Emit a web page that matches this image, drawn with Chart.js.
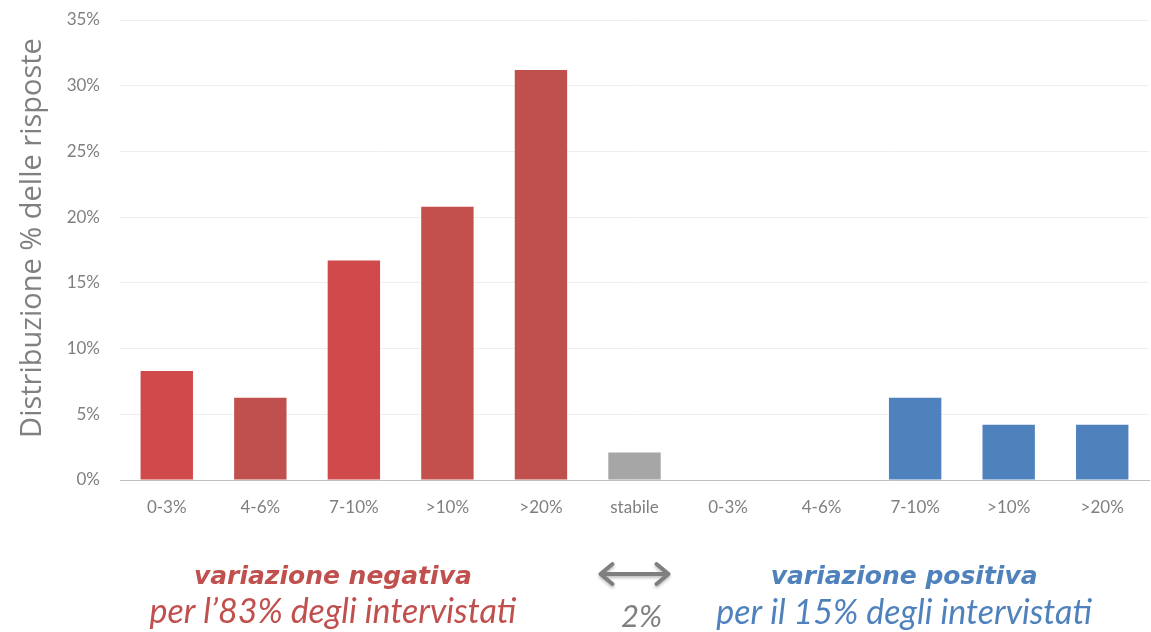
<!DOCTYPE html>
<html>
<head>
<meta charset="utf-8">
<script src="https://cdn.jsdelivr.net/npm/chart.js@4.4.1/dist/chart.umd.min.js"></script>
<style>
  html, body { margin: 0; padding: 0; background: #fff; }
  #wrap { width: 1151px; height: 632px; position: relative; }
</style>
</head>
<body>
<div id="wrap"><canvas id="myChart"></canvas></div>
<script>
// categories and values (% of answers)
const labels = ['0-3%', '4-6%', '7-10%', '>10%', '>20%', 'stabile', '0-3%', '4-6%', '7-10%', '>10%', '>20%'];
const values = [8.3, 6.25, 16.7, 20.8, 31.2, 2.1, 0, 0, 6.25, 4.2, 4.2];
const barColors = ['#D04A4B', '#C0504D', '#D04A4B', '#C4504E', '#C0504D', '#A6A6A6',
                   '#4F81BD', '#4F81BD', '#4F81BD', '#4F81BD', '#4F81BD'];
const yTicks = [0, 5, 10, 15, 20, 25, 30, 35];
const yTitle = 'Distribuzione % delle risposte';

// text under the chart
const annotations = {
    negTitle: 'variazione negativa',
    negSub: 'per l\u201983% degli intervistati',
    stable: '2%',
    posTitle: 'variazione positiva',
    posSub: 'per il 15% degli intervistati'
};

const footer = {
    id: 'footer',
    afterDraw(chart) {
        const c = chart.ctx;
        const x = chart.scales.x;
        const area = chart.chartArea;
        const negX = (x.getPixelForValue(0) + x.getPixelForValue(4)) / 2 - 21;
        const posX = x.getPixelForValue(8) - 11;
        const midX = x.getPixelForValue(5);
        c.save();
        c.textAlign = 'center';
        c.textBaseline = 'middle';

        // y axis title
        c.save();
        c.translate(33, (area.top + area.bottom) / 2 - 12);
        c.rotate(-Math.PI / 2);
        c.fillStyle = '#808080';
        c.font = '29px "Open Sans"';
        c.fillText(yTitle, 0, 0);
        c.restore();

        c.fillStyle = '#C0504D';
        c.font = 'oblique bold 25px "DejaVu Sans"';
        c.fillText(annotations.negTitle, negX, 577);
        c.font = 'italic 34px Lato';
        c.fillText(annotations.negSub, negX, 612);

        c.fillStyle = '#4F81BD';
        c.font = 'oblique bold 25px "DejaVu Sans"';
        c.fillText(annotations.posTitle, posX, 577);
        c.font = 'italic 34px Lato';
        c.fillText(annotations.posSub, posX, 613);

        c.fillStyle = '#808080';
        c.font = 'italic 31px Lato';
        c.fillText(annotations.stable, midX + 7, 617);

        // double-headed arrow
        const ay = 574, x0 = midX - 34, x1 = midX + 34;
        c.shadowColor = 'rgba(0,0,0,0.25)';
        c.shadowBlur = 3;
        c.shadowOffsetY = 2;
        c.strokeStyle = '#7F7F7F';
        c.lineWidth = 4;
        c.lineCap = 'round';
        c.lineJoin = 'round';
        c.beginPath();
        c.moveTo(x0 + 2, ay); c.lineTo(x1 - 2, ay);
        c.moveTo(x0 + 12, ay - 10); c.lineTo(x0, ay); c.lineTo(x0 + 12, ay + 10);
        c.moveTo(x1 - 12, ay - 10); c.lineTo(x1, ay); c.lineTo(x1 - 12, ay + 10);
        c.stroke();
        c.restore();
    }
};

const config = {
    type: 'bar',
    data: {
        labels: labels,
        datasets: [{
            data: values,
            backgroundColor: barColors,
            barPercentage: 0.56,
            categoryPercentage: 1
        }]
    },
    options: {
        responsive: true,
        maintainAspectRatio: false,
        animation: false,
        layout: { padding: { top: 20, right: 2, left: 0, bottom: 0 } },
        plugins: {
            legend: { display: false },
            tooltip: { enabled: false }
        },
        scales: {
            x: {
                grid: { display: false, drawTicks: false },
                border: { color: '#BFBFBF', width: 1 },
                ticks: {
                    color: '#7F7F7F',
                    font: { family: 'Lato', size: 17 },
                    padding: 17,
                    maxRotation: 0,
                    autoSkip: false
                },
                afterFit(scale) { scale.height = 152; }
            },
            y: {
                min: 0,
                max: 35,
                afterBuildTicks(scale) { scale.ticks = yTicks.map(v => ({ value: v })); },
                grid: { color: '#EEEEEE', drawTicks: false },
                border: { display: false },
                ticks: {
                    color: '#7F7F7F',
                    font: { family: 'Lato', size: 17 },
                    padding: 20,
                    callback: v => v + '%'
                },
                afterFit(scale) {
                    scale.width = 120;
                    scale.paddingTop = 0;
                    scale.paddingBottom = 0;
                }
            }
        }
    },
    plugins: [footer]
};

const ctx = document.getElementById('myChart').getContext('2d');
const myChart = new Chart(ctx, config);
</script>
</body>
</html>
